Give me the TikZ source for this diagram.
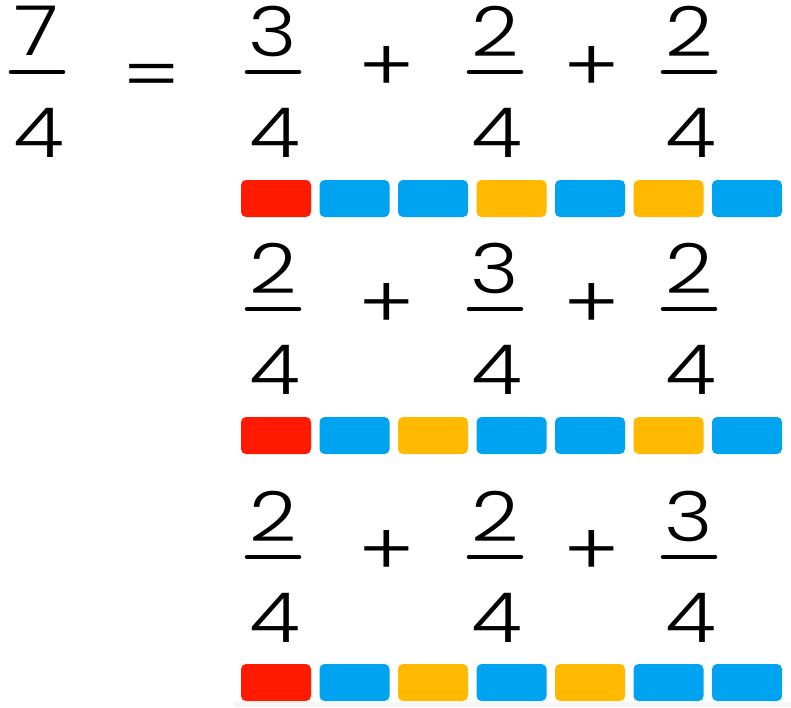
\documentclass[tikz,border=0pt]{standalone}
\usepackage{fontspec}
\IfFontExistsTF{Poppins Light}
  {\newfontfamily\digfont[FakeStretch=1.2]{Poppins Light}}
  {\newfontfamily\digfont[FakeStretch=1.2]{Poppins}}
\definecolor{barred}{HTML}{FF1A00}
\definecolor{barblue}{HTML}{00A3F0}
\definecolor{baryel}{HTML}{FFB900}
\tikzset{
  digit/.style={inner sep=0pt, font=\digfont\fontsize{69}{69}\selectfont},
  opsign/.style={inner sep=0pt, font=\digfont\fontsize{72}{72}\selectfont},
  fracbar/.style={line width=4.5pt, line cap=round},
  tile/.style={rounded corners=5pt, draw=none},
}
\newcommand{\myfrac}[5]{%
  \node[digit] (#1n) at (#2,#3-41) {#4};
  \node[digit] (#1d) at (#2+2,#3+61) {#5};
  \draw[fracbar] (#2-26,#3) -- (#2+26,#3);
}
\newcommand{\mytiles}[8]{%
  \foreach \c [count=\i from 0] in {#2,#3,#4,#5,#6,#7,#8} {
    \fill[tile, \c] (241+78.5*\i,#1) rectangle ++(70,37);
  }
}
\begin{document}
\begin{tikzpicture}[x=1pt,y=-1pt]
\useasboundingbox (0,0) rectangle (791,707);
\fill[gray!7] (234,702) rectangle (791,707);
% left side
\myfrac{a}{37}{72}{7}{4}
\node[opsign] (eq) at (152,82) {=};
% row 1
\myfrac{ra}{273}{72}{3}{4}
\node[opsign] (pa1) at (387,69) {+};
\myfrac{rb}{495}{72}{2}{4}
\node[opsign] (pa2) at (592,69) {+};
\myfrac{rc}{689}{72}{2}{4}
\mytiles{180}{barred}{barblue}{barblue}{baryel}{barblue}{baryel}{barblue}
% row 2
\myfrac{sa}{273}{309}{2}{4}
\node[opsign] (pb1) at (387,306) {+};
\myfrac{sb}{495}{309}{3}{4}
\node[opsign] (pb2) at (592,306) {+};
\myfrac{sc}{689}{309}{2}{4}
\mytiles{417}{barred}{barblue}{baryel}{barblue}{barblue}{baryel}{barblue}
% row 3
\myfrac{ta}{273}{557}{2}{4}
\node[opsign] (pc1) at (387,553) {+};
\myfrac{tb}{495}{557}{2}{4}
\node[opsign] (pc2) at (592,553) {+};
\myfrac{tc}{689}{557}{3}{4}
\mytiles{664}{barred}{barblue}{baryel}{barblue}{baryel}{barblue}{barblue}
\end{tikzpicture}
\end{document}
